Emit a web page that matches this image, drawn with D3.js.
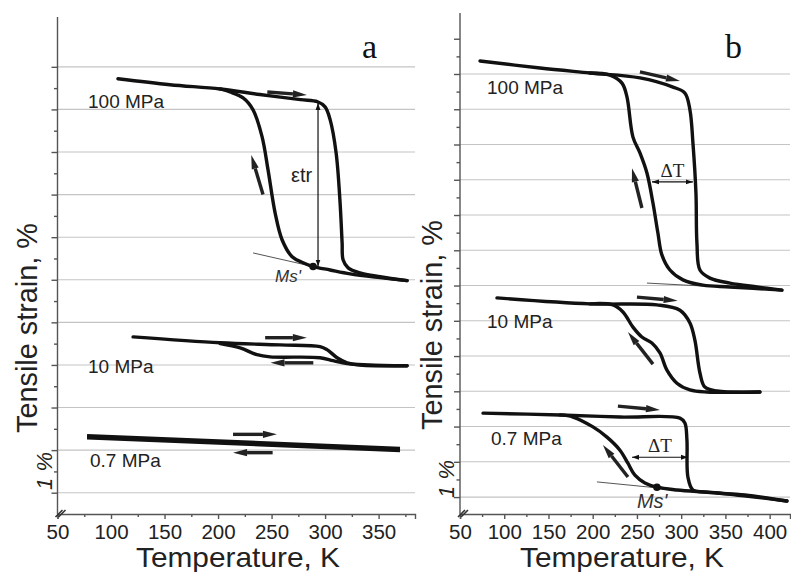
<!DOCTYPE html>
<html><head><meta charset="utf-8">
<script src="https://cdn.jsdelivr.net/npm/d3@7/dist/d3.min.js"></script>
<style>body{margin:0;background:#fff}svg{display:block}</style>
</head><body>
<script>
// ---------- data (Temperature K, strain %) ----------
const tempTicksA = [50,100,150,200,250,300,350];
const tempTicksB = [50,100,150,200,250,300,350,400];
const loadLabels = ["100 MPa","10 MPa","0.7 MPa"];

const a100Heat = [[106.5,9.72],[155,9.58],[202,9.48],[239,9.35],[277,9.23],[293,9.18],[300,9.06],[304.7,8.76],[310.3,7.98],[314,6.81],[315.9,5.87],[316.8,5.47],[321.5,5.28],[332.7,5.16],[351.4,5.07],[376.6,4.98]];
const a100Cool = [[376.6,4.98],[351.4,5.05],[323.4,5.14],[304.7,5.23],[288.8,5.31],[279.4,5.40],[269.2,5.54],[259.8,5.94],[253.3,6.57],[246.7,7.58],[241.1,8.36],[232.7,8.99],[223.4,9.27],[211.2,9.41],[202,9.48]];
const a10Heat = [[120.6,3.66],[202,3.52],[258,3.47],[295.3,3.43],[301.8,3.36],[311.2,3.17],[320.6,3.05],[332.7,3.0],[376.6,2.98]];
const a10Cool = [[376.6,2.98],[340,3.0],[320.6,3.03],[307.5,3.10],[295.3,3.17],[248.6,3.19],[236.4,3.24],[220.6,3.40],[202,3.50]];
const a07Heat = [[77.6,1.34],[370,1.04]];
const a07Cool = [[370,0.99],[77.6,1.29]];

const b100Heat = [[72.6,12.37],[140.4,12.17],[196.9,12.03],[253.4,11.89],[290.7,11.63],[304.2,11.46],[309.9,10.98],[313.3,10.04],[316.7,8.62],[317.8,7.21],[321.2,6.44],[332.5,6.21],[355.1,6.07],[385.6,5.96],[413.8,5.87]];
const b100Cool = [[413.8,5.87],[355.1,5.96],[324.6,6.01],[302,6.16],[287.3,6.44],[278.2,6.87],[273.7,7.49],[268.1,8.34],[261.3,9.19],[253.4,9.76],[245.5,10.21],[238.7,11.35],[233.1,11.74],[219.5,11.97],[196.9,12.03]];
const b10Heat = [[91.8,5.65],[196.9,5.48],[272.6,5.45],[298.6,5.30],[309.9,4.94],[315.5,4.45],[321.2,3.52],[326.8,3.12],[340.4,3.01],[389,2.98]];
const b10Cool = [[389,2.98],[329.1,2.98],[309.9,3.04],[295.2,3.23],[283.9,3.60],[276,4.09],[266.9,4.37],[255.6,4.54],[245.5,4.82],[234.2,5.25],[222.9,5.45],[196.9,5.48]];
const b07Heat = [[76,2.38],[163,2.33],[230.8,2.27],[298.6,2.24],[304.2,2.10],[306.5,1.62],[307.6,0.57],[313.3,0.20],[329.1,0.14],[372,0.06],[419.5,-0.11]];
const b07Cool = [[419.5,-0.11],[343.8,0.11],[295.2,0.20],[272.6,0.28],[259,0.40],[247.7,0.62],[239.8,0.96],[230.8,1.33],[216.1,1.70],[200.3,1.99],[177.7,2.27],[163,2.33]];

// annotations (data coords)
const aArrows = [[[246,9.41],[283,9.34]],[[242,7.0],[231,7.93]],[[244,3.64],[283,3.64]],[[289,3.05],[249,3.05]],[[214,1.37],[255,1.37]],[[251,0.94],[214,0.94]]];
const bArrows = [[[253.4,12.06],[298.6,11.80]],[[255.6,8.2],[244.4,9.33]],[[250,5.67],[296,5.57]],[[268.1,3.77],[239.8,4.68]],[[228.5,2.58],[276,2.47]],[[239.8,0.57],[211.6,1.48]]];
const aTangent = [[232.7,5.63],[288.8,5.31]];
const bTangent100 = [[261.3,6.07],[411.6,5.87]];
const bTangent07 = [[204.8,0.43],[415,-0.09]];
const aMs = [288.8,5.31];
const bMs = [272.6,0.28];
const aEps = [[293.4,9.15],[293.4,5.31]];
const bDT100 = [[267,8.94],[313.3,8.94]];
const bDT07 = [[244.4,1.13],[307.6,1.13]];

// ---------- drawing ----------
const W=791,H=572;
const FONT="Liberation Sans, Arial, sans-serif";
const svg=d3.select("body").append("svg").attr("width",W).attr("height",H);
const defs=svg.append("defs");
defs.append("marker").attr("id","ah").attr("viewBox","0 0 10 10").attr("refX",10).attr("refY",5)
  .attr("markerWidth",7).attr("markerHeight",7).attr("orient","auto-start-reverse").attr("markerUnits","userSpaceOnUse")
  .append("path").attr("d","M0,1.5L10,5L0,8.5Z").attr("fill","#111");

const panels=[
  {x:d3.scaleLinear([50,384],[57.5,415]), y:d3.scaleLinear([-0.5,11.17],[514,17]), ticks:tempTicksA, grid:d3.range(0,11), maj:d3.range(0,11), min:d3.range(0.5,10,1),
   curves:[a100Heat,a100Cool,a10Heat,a10Cool], thick:[a07Heat,a07Cool], arrows:aArrows, tangents:[aTangent], ms:aMs,
   labels:[[88,108],[88,373],[90,467]], letter:["a",362,58], ylab:[37,328], one:[52,471], xlabc:238},
  {x:d3.scaleLinear([50,423],[460,790]), y:d3.scaleLinear([-0.48,13.73],[514,13]), ticks:tempTicksB, grid:d3.range(0,13), maj:d3.range(0,14), min:d3.range(0.5,13,1),
   curves:[b100Heat,b100Cool,b10Heat,b10Cool,b07Heat,b07Cool], thick:[], arrows:bArrows, tangents:[bTangent100,bTangent07], ms:bMs,
   labels:[[487,94],[487,328],[491,445]], letter:["b",725,58], ylab:[442,325], one:[454,479], xlabc:622}
];

panels.forEach((p,i)=>{
  const g=svg.append("g");
  const [x0,x1]=p.x.range(), [yb,yt]=p.y.range();
  // grid
  g.selectAll(".grid").data(p.grid).join("line")
    .attr("x1",x0).attr("x2",x1).attr("y1",d=>p.y(d)).attr("y2",d=>p.y(d))
    .attr("stroke","#c4c4c4").attr("stroke-width",1.1);
  // y axis
  const ya=g.append("g").attr("transform",`translate(${x0},0)`)
    .call(d3.axisLeft(p.y).tickValues(p.maj).tickSize(6).tickFormat(""));
  const ym=g.append("g").attr("transform",`translate(${x0},0)`)
    .call(d3.axisLeft(p.y).tickValues(p.min).tickSize(3.5).tickFormat(""));
  ya.select(".domain").attr("d",`M-0,${yb}V${yt}`);
  ym.select(".domain").remove();
  // x axis
  const xa=g.append("g").attr("transform",`translate(0,${yb})`)
    .call(d3.axisBottom(p.x).tickValues(p.ticks).tickSize(5).tickPadding(5).tickFormat(d3.format("d")));
  const xm=g.append("g").attr("transform",`translate(0,${yb})`)
    .call(d3.axisBottom(p.x).tickValues(p.ticks.map(t=>t+25).filter(t=>t<p.x.domain()[1])).tickSize(3).tickFormat(""));
  xm.select(".domain").remove();
  [ya,ym,xa,xm].forEach(a=>{a.selectAll("line,path").attr("stroke","#555").attr("stroke-width",1.4);});
  xa.selectAll("text").attr("font-family",FONT).attr("font-size",20.5).attr("fill","#222").attr("dy","0.74em");
  // axis break
  g.append("path").attr("d",`M${x0-2},${yb+3}L${x0+5},${yb-4}M${x0+1},${yb+3}L${x0+8},${yb-4}`).attr("stroke","#333").attr("stroke-width",1.6);
  // tangent lines
  p.tangents.forEach(t=>{
    g.append("line").attr("x1",p.x(t[0][0])).attr("y1",p.y(t[0][1])).attr("x2",p.x(t[1][0])).attr("y2",p.y(t[1][1]))
      .attr("stroke","#555").attr("stroke-width",1);
  });
  // curves
  const line=d3.line().x(d=>p.x(d[0])).y(d=>p.y(d[1])).curve(d3.curveCatmullRom.alpha(0.5));
  p.curves.forEach(c=>g.append("path").attr("d",line(c)).attr("fill","none").attr("stroke","#111").attr("stroke-width",3.4).attr("stroke-linejoin","round").attr("stroke-linecap","round"));
  p.thick.forEach(c=>g.append("path").attr("d",line(c)).attr("fill","none").attr("stroke","#111").attr("stroke-width",3.4).attr("stroke-linecap","butt"));
  // Ms dot
  g.append("circle").attr("cx",p.x(p.ms[0])).attr("cy",p.y(p.ms[1])).attr("r",3.8).attr("fill","#111");
  // direction arrows
  p.arrows.forEach(a=>{
    const xA=p.x(a[0][0]),yA=p.y(a[0][1]),xB=p.x(a[1][0]),yB=p.y(a[1][1]);
    const dx=xB-xA,dy=yB-yA,L=Math.hypot(dx,dy),ux=dx/L,uy=dy/L,nx=-uy,ny=ux;
    const hl=14,hw=3.6;
    const bx=xB-ux*hl,by=yB-uy*hl;
    g.append("line").attr("x1",xA).attr("y1",yA).attr("x2",bx).attr("y2",by).attr("stroke","#222").attr("stroke-width",3.4);
    g.append("path").attr("d",`M${xB},${yB}L${bx+nx*hw},${by+ny*hw}L${bx-nx*hw},${by-ny*hw}Z`).attr("fill","#222");
  });
  // load labels
  loadLabels.forEach((t,k)=>{
    g.append("text").attr("x",p.labels[k][0]).attr("y",p.labels[k][1]).text(t)
      .attr("font-family",FONT).attr("font-size",19).attr("fill","#222");
  });
  // panel letter
  g.append("text").attr("x",p.letter[1]).attr("y",p.letter[2]).text(p.letter[0])
    .attr("font-family","Liberation Serif, Times New Roman, serif").attr("font-size",34).attr("fill","#111");
  // axis titles
  g.append("text").attr("transform",`translate(${p.ylab[0]},${p.ylab[1]}) rotate(-90)`).attr("text-anchor","middle")
    .text("Tensile strain, %").attr("font-family",FONT).attr("font-size",29)
    .attr("textLength",210).attr("lengthAdjust","spacingAndGlyphs").attr("fill","#222");
  g.append("text").attr("transform",`translate(${p.one[0]},${p.one[1]}) rotate(-90)`).attr("text-anchor","middle")
    .text("1 %").attr("font-family",FONT).attr("font-style","italic").attr("font-size",22).attr("fill","#222");
  g.append("text").attr("x",p.xlabc).attr("y",567).attr("text-anchor","middle")
    .text("Temperature, K").attr("font-family",FONT).attr("font-size",28)
    .attr("textLength",204).attr("lengthAdjust","spacingAndGlyphs").attr("fill","#222");
  p.g=g;
});

// panel a annotations
{
  const p=panels[0], g=p.g;
  g.append("line").attr("x1",p.x(aEps[0][0])).attr("y1",p.y(aEps[0][1])).attr("x2",p.x(aEps[1][0])).attr("y2",p.y(aEps[1][1]))
    .attr("stroke","#111").attr("stroke-width",1.2).attr("marker-start","url(#ah)").attr("marker-end","url(#ah)");
  g.append("text").attr("x",p.x(aEps[0][0])-27).attr("y",p.y(7.3)).text("εtr")
    .attr("font-family",FONT).attr("font-size",20).attr("fill","#222");
  g.append("text").attr("x",p.x(aMs[0])-38).attr("y",p.y(aMs[1])+15).text("Ms'")
    .attr("font-family",FONT).attr("font-style","italic").attr("font-size",17).attr("fill","#333");
}
// panel b annotations
{
  const p=panels[1], g=p.g;
  [bDT100,bDT07].forEach(d=>{
    g.append("line").attr("x1",p.x(d[0][0])).attr("y1",p.y(d[0][1])).attr("x2",p.x(d[1][0])).attr("y2",p.y(d[1][1]))
      .attr("stroke","#111").attr("stroke-width",1.2).attr("marker-start","url(#ah)").attr("marker-end","url(#ah)");
    g.append("text").attr("x",(p.x(d[0][0])+p.x(d[1][0]))/2).attr("y",p.y(d[0][1])-5).attr("text-anchor","middle").text("ΔT")
      .attr("font-family","Liberation Serif, Times New Roman, serif").attr("font-size",19).attr("fill","#222");
  });
  g.append("text").attr("x",p.x(bMs[0])-20).attr("y",p.y(bMs[1])+21).text("Ms'")
    .attr("font-family",FONT).attr("font-style","italic").attr("font-size",20).attr("fill","#333");
}
</script>
</body></html>
